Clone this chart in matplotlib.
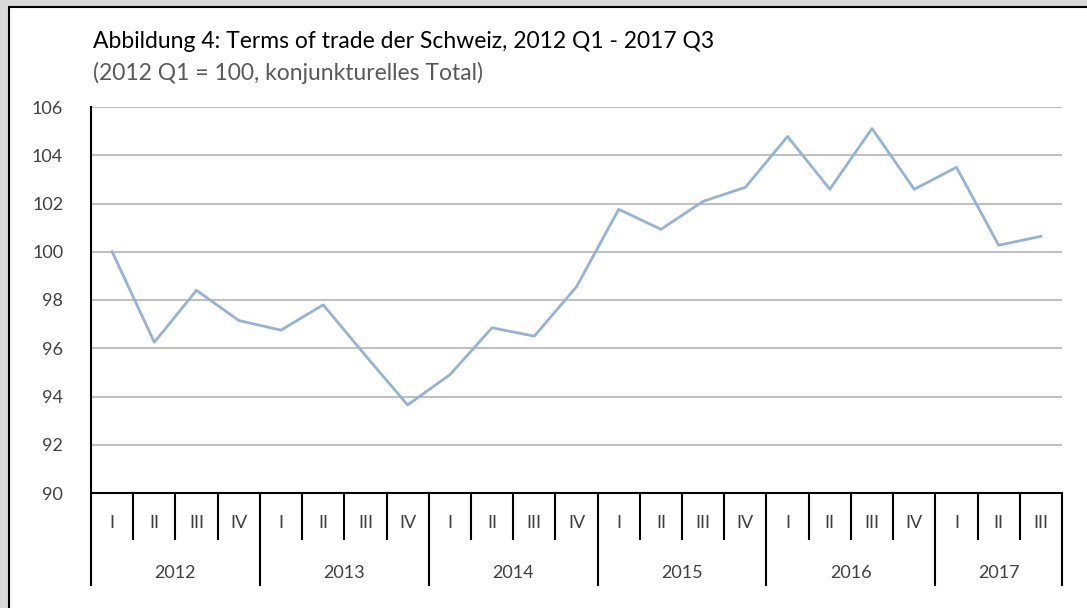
import matplotlib
matplotlib.use('Agg')
from matplotlib import pyplot
from matplotlib.patches import Rectangle

# Terms of trade, 2012 Q1 = 100
years = ['2012', '2013', '2014', '2015', '2016', '2017']
quarters = ['I', 'II', 'III', 'IV']
values = [100.0, 96.25, 98.4, 97.15, 96.75, 97.8, 95.7, 93.65,
          94.9, 96.85, 96.5, 98.55, 101.76, 100.93, 102.09, 102.67,
          104.78, 102.59, 105.11, 102.59, 103.5, 100.27, 100.64]
y_ticks = [90, 92, 94, 96, 98, 100, 102, 104, 106]

TITLE = 'Abbildung 4: Terms of trade der Schweiz, 2012 Q1 - 2017 Q3'
SUBTITLE = '(2012 Q1 = 100, konjunkturelles Total)'

pyplot.rcParams['font.family'] = ['Lato', 'DejaVu Sans']

W, H = 1087, 608
fig = pyplot.figure(figsize=(W / 100, H / 100), dpi=100, facecolor='#d9d9d9')

# white chart area with black border on top and left
fig.patches.append(Rectangle((9 / W, -0.01), 1.01, 1.01 - 7 / H,
                             transform=fig.transFigure,
                             facecolor='white', edgecolor='black', linewidth=1.5,
                             zorder=-5))

ax = fig.add_axes([91 / W, 1 - 493 / H, (1062 - 91) / W, (493 - 107) / H])
ax.set_zorder(2)
ax.set_facecolor('none')

x = list(range(len(values)))
ax.plot(x, values, color='#95b3d7', linewidth=2.0, zorder=3)

ax.set_xlim(-0.5, len(values) - 0.5)
ax.set_ylim(90, 106)
ax.set_yticks(y_ticks)
ax.set_yticklabels([str(v) for v in y_ticks], fontsize=13, color='#404040')
ax.tick_params(axis='y', length=0, pad=20)
ax.grid(axis='y', color='#c0c0c0', linewidth=1.5, zorder=1)
ax.set_axisbelow(True)

for side in ['top', 'right']:
    ax.spines[side].set_visible(False)
ax.spines['left'].set_linewidth(1.5)
ax.spines['bottom'].set_linewidth(1.5)

# category axis: quarter separators (minor) and year separators (major)
year_edges = [-0.5 + 4 * i for i in range(len(years))] + [len(values) - 0.5]
quarter_edges = [i - 0.5 for i in range(len(values) + 1)]
ax.set_xticks(year_edges)
ax.set_xticks(quarter_edges, minor=True)
ax.set_xticklabels([])
ax.tick_params(axis='x', which='major', direction='out', length=67, width=1.5)
ax.tick_params(axis='x', which='minor', direction='out', length=34, width=1.5)

trans = ax.get_xaxis_transform()
q_labels = (quarters * len(years))[:len(values)]
for xi, q in zip(x, q_labels):
    ax.text(xi, -0.078, q, transform=trans, ha='center', va='center',
            fontsize=13, color='#404040')
for i, yr in enumerate(years):
    mid = (year_edges[i] + year_edges[i + 1]) / 2
    ax.text(mid, -0.207, yr, transform=trans, ha='center', va='center',
            fontsize=13, color='#404040')

fig.text(93 / W, 1 - 41 / H, TITLE, fontsize=16.5, color='black', va='center')
fig.text(93 / W, 1 - 73 / H, SUBTITLE, fontsize=16.5, color='#595959',
         va='center')

fig.savefig('out.png', dpi=100, facecolor=fig.get_facecolor())
